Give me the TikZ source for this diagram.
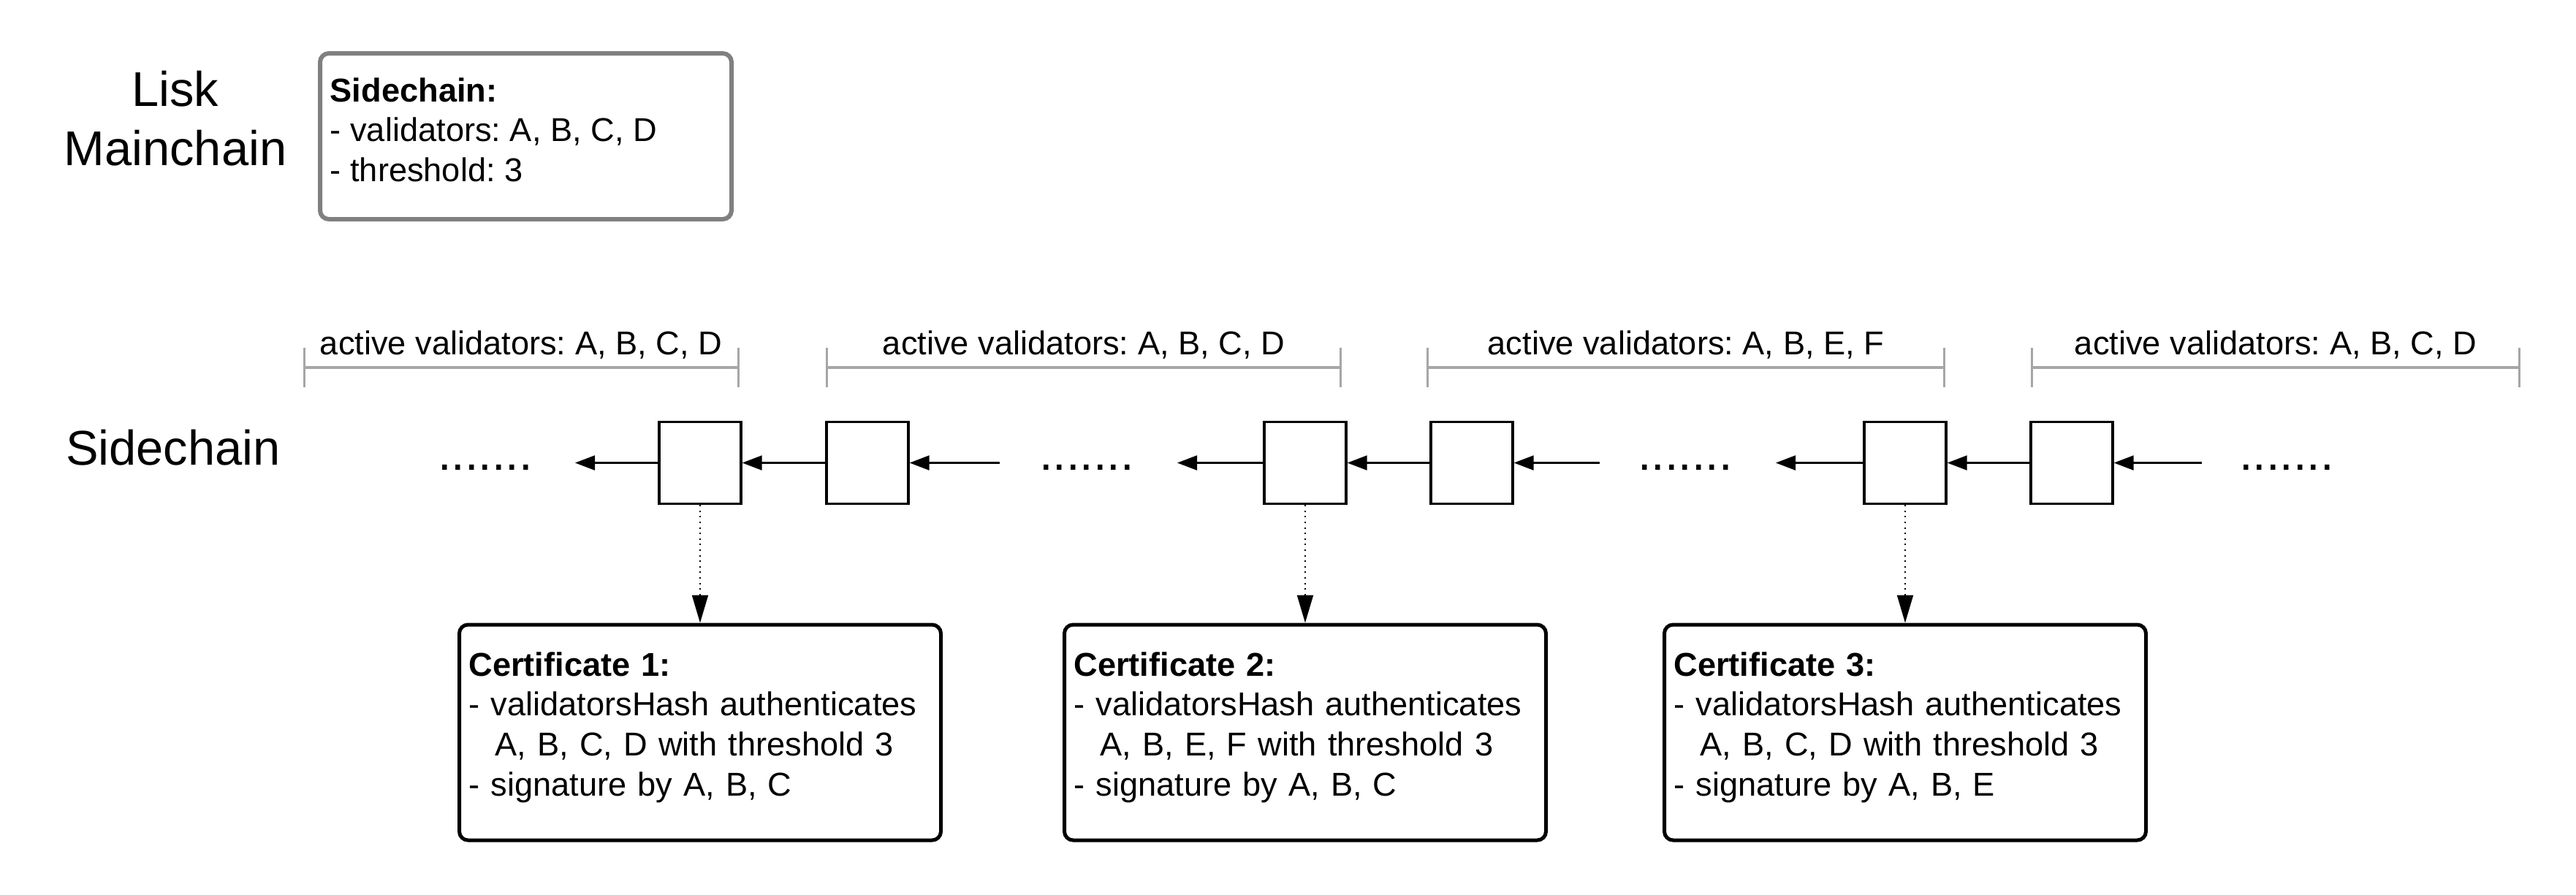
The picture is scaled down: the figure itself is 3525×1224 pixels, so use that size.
\documentclass[tikz,border=0pt]{standalone}
\usepackage{fontspec}
\setmainfont{Liberation Sans}
\usetikzlibrary{arrows.meta}

\definecolor{spangray}{HTML}{A6A6A6}
\definecolor{boxgray}{HTML}{808080}
\newcommand{\lblfont}{\fontsize{11.3pt}{13.7pt}\selectfont}
\newcommand{\bigfnt}{\fontsize{16.7pt}{20.25pt}\selectfont}

\tikzset{
  block/.style={draw, line width=0.85pt, minimum size=28pt, inner sep=0pt},
  cert/.style={draw, line width=1.25pt, rounded corners=3pt, text width=158.25pt,
    inner xsep=3.25pt, minimum height=73.75pt, align=left, font=\lblfont,
    execute at end node={\par\vspace*{3.5pt}}},
  link/.style={line width=0.55pt, -{Triangle[length=6.75pt,width=5pt]}},
  proof/.style={line width=0.5pt, dash pattern=on 0.5pt off 1.4pt,
    -{Triangle[length=9.5pt,width=5.5pt]}},
  span/.style={draw=spangray, line width=0.8pt, {Bar[width=13.5pt]}-{Bar[width=13.5pt]}},
}

\begin{document}
\frenchspacing
\begin{tikzpicture}[x=0.25pt, y=-0.25pt]
      \useasboundingbox (0,0) rectangle (3525,1224);

      % mainchain
      \node[font=\bigfnt, align=center, anchor=north, inner sep=0pt] (lisk) at (240,96) {Lisk\\Mainchain};
      \node[draw=boxgray, line width=1.5pt, rounded corners=3pt, minimum width=140.75pt,
        minimum height=56.75pt] (mainbox) at (719.5,186.5) {};
      \node[font=\lblfont, align=left, anchor=north west, inner sep=0pt] (maintext) at (451,105.5)
        {\textbf{Sidechain:}\\- validators: A, B, C, D\\- threshold: 3};

      % sidechain
      \node[font=\bigfnt, anchor=base] (side) at (237,636) {Sidechain};

      \node[block] (b1) at (958,633.5) {};
      \node[block] (b2) at (1187,633.5) {};
      \node[block] (b3) at (1786,633.5) {};
      \node[block] (b4) at (2014,633.5) {};
      \node[block] (b5) at (2607,633.5) {};
      \node[block] (b6) at (2835,633.5) {};

      \node[font=\bigfnt, anchor=base] (d1) at (664,643) {.......};
      \node[font=\bigfnt, anchor=base] (d2) at (1487,643) {.......};
      \node[font=\bigfnt, anchor=base] (d3) at (2306,643) {.......};
      \node[font=\bigfnt, anchor=base] (d4) at (3129,643) {.......};

      \coordinate (e1) at (787,633.5);
      \coordinate (s1) at (1368,633.5);
      \coordinate (e2) at (1611,633.5);
      \coordinate (s2) at (2189,633.5);
      \coordinate (e3) at (2430,633.5);
      \coordinate (s3) at (3013,633.5);

      \draw[link] (b1) -- (e1);
      \draw[link] (b2) -- (b1);
      \draw[link] (s1) -- (b2);
      \draw[link] (b3) -- (e2);
      \draw[link] (b4) -- (b3);
      \draw[link] (s2) -- (b4);
      \draw[link] (b5) -- (e3);
      \draw[link] (b6) -- (b5);
      \draw[link] (s3) -- (b6);

      % active validator sets
      \draw[span] (415,503) -- (1012,503);
      \draw[span] (1130,503) -- (1836,503);
      \draw[span] (1952,503) -- (2662,503);
      \draw[span] (2779,503) -- (3449,503);
      \node[font=\lblfont, anchor=base] (v1) at (713,485) {active validators: A, B, C, D};
      \node[font=\lblfont, anchor=base] (v2) at (1483,485) {active validators: A, B, C, D};
      \node[font=\lblfont, anchor=base] (v3) at (2307,485) {active validators: A, B, E, F};
      \node[font=\lblfont, anchor=base] (v4) at (3114,485) {active validators: A, B, C, D};

      % certificates
      \node[cert] (c1) at (958,1002.5) {\textbf{Certificate 1:}\\- validatorsHash authenticates\\\hspace*{0.8em}A, B, C, D with threshold 3\\- signature by A, B, C};
      \node[cert] (c2) at (1786,1002.5) {\textbf{Certificate 2:}\\- validatorsHash authenticates\\\hspace*{0.8em}A, B, E, F with threshold 3\\- signature by A, B, C};
      \node[cert] (c3) at (2607,1002.5) {\textbf{Certificate 3:}\\- validatorsHash authenticates\\\hspace*{0.8em}A, B, C, D with threshold 3\\- signature by A, B, E};

      \draw[proof] (b1) -- (c1);
      \draw[proof] (b3) -- (c2);
      \draw[proof] (b5) -- (c3);
    \end{tikzpicture}
\end{document}
